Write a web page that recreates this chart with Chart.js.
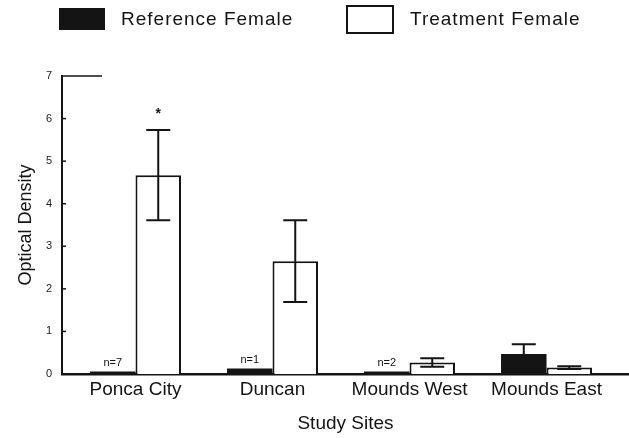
<!DOCTYPE html>
<html>
<head>
<meta charset="utf-8">
<script src="https://cdn.jsdelivr.net/npm/chart.js@4/dist/chart.umd.min.js"></script>
<style>
  html, body { margin: 0; padding: 0; background: #fff; }
  #wrap { width: 629px; height: 438px; }
</style>
</head>
<body>
<div id="wrap"><canvas id="c" width="629" height="438"></canvas></div>
<script>
// Study sites and female optical density (mean with error)
const sites = ['Ponca City', 'Duncan', 'Mounds West', 'Mounds East'];
const refFemale = [0.06, 0.13, 0.06, 0.47];
const trtFemale = [4.67, 2.65, 0.27, 0.15];
const refErr = [0, 0, 0, 0.23];
const trtErr = [1.06, 0.96, 0.10, 0.03];
const refCounts = ['n=7', 'n=1', 'n=2', ''];
const trtMarks = ['*', '', '', ''];
const yTicks = [0, 1, 2, 3, 4, 5, 6, 7];

const FONT = '"Liberation Sans", Arial, Helvetica, sans-serif';
const INK = '#141414';

// Error bars with caps, drawn on top of each bar
const errorBars = {
  id: 'errorBars',
  afterDatasetsDraw(chart) {
    const ys = chart.scales.y;
    const ctx = chart.ctx;
    ctx.save();
    ctx.strokeStyle = INK;
    ctx.lineWidth = 2;
    chart.data.datasets.forEach((ds, di) => {
      const meta = chart.getDatasetMeta(di);
      meta.data.forEach((bar, i) => {
        const e = ds.errors[i];
        if (!e) return;
        const v = ds.data[i].y;
        const top = ys.getPixelForValue(v + e);
        const bot = ys.getPixelForValue(Math.max(v - e, 0));
        const half = 12;
        ctx.beginPath();
        ctx.moveTo(bar.x, top); ctx.lineTo(bar.x, bot);
        ctx.moveTo(bar.x - half, top); ctx.lineTo(bar.x + half, top);
        ctx.moveTo(bar.x - half, bot); ctx.lineTo(bar.x + half, bot);
        ctx.stroke();
      });
    });
    ctx.restore();
  }
};

// Sample-size notes over the reference bars, significance marks over treatment
const barNotes = {
  id: 'barNotes',
  afterDatasetsDraw(chart) {
    const ys = chart.scales.y;
    const ctx = chart.ctx;
    ctx.save();
    ctx.fillStyle = INK;
    ctx.textAlign = 'center';
    ctx.textBaseline = 'bottom';
    ctx.font = '11px ' + FONT;
    chart.getDatasetMeta(0).data.forEach((bar, i) => {
      if (refCounts[i]) ctx.fillText(refCounts[i], bar.x, bar.y - 3);
    });
    ctx.font = 'bold 14px ' + FONT;
    ctx.textBaseline = 'middle';
    const ds = chart.data.datasets[1];
    chart.getDatasetMeta(1).data.forEach((bar, i) => {
      if (!trtMarks[i]) return;
      const top = ys.getPixelForValue(ds.data[i].y + ds.errors[i]);
      ctx.fillText(trtMarks[i], bar.x, top - 16);
    });
    ctx.restore();
  }
};

// Inward tick marks on the value axis
const innerTicks = {
  id: 'innerTicks',
  afterDraw(chart) {
    const ys = chart.scales.y;
    const left = chart.chartArea.left;
    const ctx = chart.ctx;
    ctx.save();
    ctx.strokeStyle = INK;
    ctx.lineWidth = 1.5;
    yTicks.forEach(v => {
      if (v === 0) return;
      const py = ys.getPixelForValue(v);
      const len = v === yTicks[yTicks.length - 1] ? 40 : 4;
      ctx.beginPath();
      ctx.moveTo(left, py);
      ctx.lineTo(left + len, py);
      ctx.stroke();
    });
    ctx.restore();
  }
};

// Legend across the top
const topLegend = {
  id: 'topLegend',
  afterDraw(chart) {
    const ctx = chart.ctx;
    const dsets = chart.data.datasets;
    ctx.save();
    ctx.font = '19px ' + FONT;
    ctx.letterSpacing = '1px';
    ctx.textBaseline = 'middle';
    ctx.textAlign = 'left';
    // first entry: filled box
    ctx.fillStyle = dsets[0].backgroundColor;
    ctx.fillRect(59, 8, 46, 22);
    ctx.fillStyle = INK;
    ctx.fillText(dsets[0].label, 121, 20);
    // second entry: outlined box
    ctx.fillStyle = dsets[1].backgroundColor;
    ctx.strokeStyle = dsets[1].borderColor;
    ctx.lineWidth = 2;
    ctx.fillRect(347, 6, 46, 27);
    ctx.strokeRect(347, 6, 46, 27);
    ctx.fillStyle = INK;
    ctx.fillText(dsets[1].label, 410, 20);
    ctx.restore();
  }
};

new Chart(document.getElementById('c'), {
  type: 'bar',
  data: {
    datasets: [
      {
        label: 'Reference Female',
        data: sites.map((s, i) => ({ x: i, y: refFemale[i] })),
        errors: refErr,
        backgroundColor: INK,
        borderWidth: 0,
        categoryPercentage: 0.664,
        barPercentage: 1
      },
      {
        label: 'Treatment Female',
        data: sites.map((s, i) => ({ x: i, y: trtFemale[i] })),
        errors: trtErr,
        backgroundColor: '#ffffff',
        borderColor: INK,
        borderWidth: 2,
        categoryPercentage: 0.664,
        barPercentage: 1
      }
    ]
  },
  options: {
    responsive: false,
    animation: false,
    devicePixelRatio: 1,
    layout: { padding: { top: 76, left: 0, right: 0, bottom: 0 } },
    plugins: {
      legend: { display: false },
      tooltip: { enabled: false }
    },
    scales: {
      x: {
        type: 'linear',
        offset: false,
        min: -0.5365,
        max: 3.602,
        afterBuildTicks(s) { s.ticks = sites.map((_, i) => ({ value: i })); },
        afterFit(s) { s.height = 64; },
        ticks: {
          callback: (v) => sites[v],
          padding: -4,
          autoSkip: false,
          maxRotation: 0,
          color: INK,
          font: { family: FONT, size: 19 }
        },
        grid: { display: false },
        border: { display: true, color: INK, width: 2.5 },
        title: {
          display: true,
          text: 'Study Sites',
          color: INK,
          font: { family: FONT, size: 19 },
          padding: { top: 0, bottom: 3 }
        }
      },
      y: {
        min: 0,
        max: 7,
        afterBuildTicks(s) { s.ticks = yTicks.map(v => ({ value: v })); },
        afterFit(s) { s.width = 62; },
        ticks: {
          padding: 2,
          color: '#222',
          font: { family: FONT, size: 11 }
        },
        grid: { display: false },
        border: { display: true, color: INK, width: 2 },
        title: {
          display: true,
          text: 'Optical Density',
          color: INK,
          font: { family: FONT, size: 18 },
          padding: { top: 15, bottom: 0 }
        }
      }
    }
  },
  plugins: [errorBars, barNotes, innerTicks, topLegend]
});
</script>
</body>
</html>
